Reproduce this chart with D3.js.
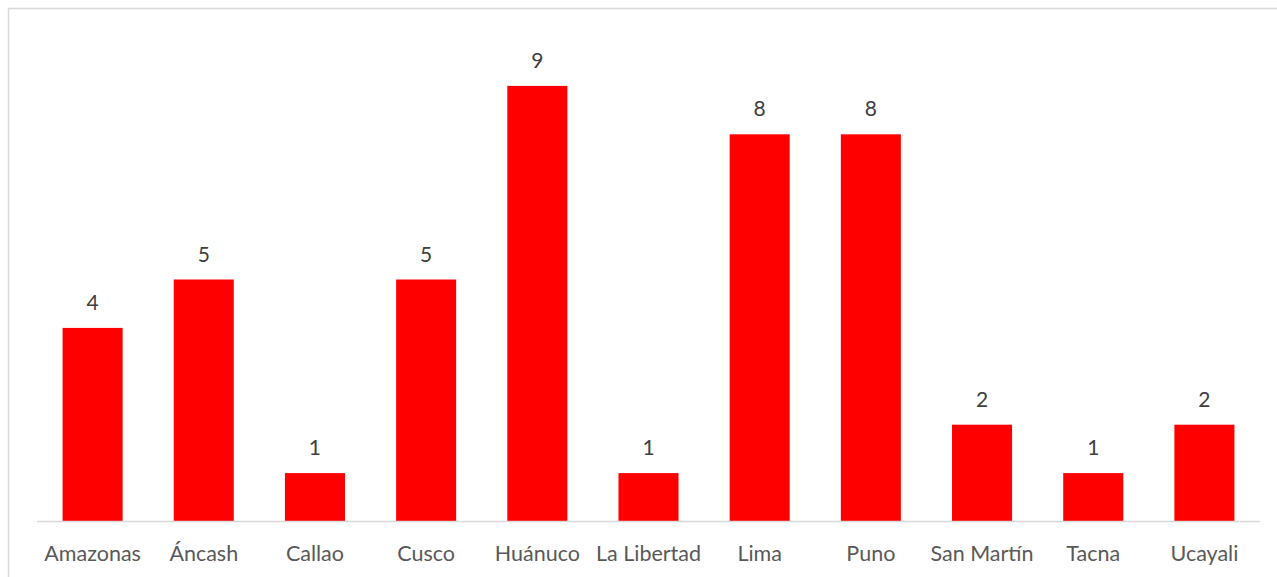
<!DOCTYPE html>
<html><head><meta charset="utf-8">
<script src="https://cdn.jsdelivr.net/npm/d3@7"></script>
<style>body{margin:0;background:#fff}svg{display:block}</style>
</head><body>
<svg id="c" width="1277" height="577"></svg>
<script>
const categories = ["Amazonas","Áncash","Callao","Cusco","Huánuco","La Libertad","Lima","Puno","San Martín","Tacna","Ucayali"];
const values = [4,5,1,5,9,1,8,8,2,1,2];

const svg = d3.select("#c");
svg.append("rect").attr("x",8.5).attr("y",8.5).attr("width",1300).attr("height",600)
  .attr("fill","#fff").attr("stroke","#d9d9d9").attr("stroke-width",1.5);

const x = d3.scaleBand().domain(categories).range([37,1260]).paddingInner(0.46).paddingOuter(0.23);
const y = d3.scaleLinear().domain([0,10]).range([521.5,37.5]);

svg.selectAll("rect.bar").data(values).enter().append("rect").attr("class","bar")
  .attr("x",(d,i)=>x(categories[i])).attr("width",x.bandwidth())
  .attr("y",d=>y(d)).attr("height",d=>y(0)-y(d)).attr("fill","#ff0000");

svg.append("line").attr("x1",37).attr("x2",1260).attr("y1",521.5).attr("y2",521.5)
  .attr("stroke","#d9d9d9").attr("stroke-width",1.5);

svg.selectAll("text.val").data(values).enter().append("text").attr("class","val")
  .attr("x",(d,i)=>x(categories[i])+x.bandwidth()/2).attr("y",d=>y(d)-18)
  .attr("text-anchor","middle").attr("font-family","Lato, 'Open Sans', sans-serif")
  .attr("font-size",21).attr("fill","#404040").text(d=>d);

const xAxis = d3.axisBottom(x).tickSize(0).tickPadding(0);
const g = svg.append("g").attr("transform","translate(0,521.5)").call(xAxis);
g.select(".domain").remove();
g.selectAll("text").attr("y",39).attr("dy",0).attr("font-family","Lato, 'Open Sans', sans-serif")
  .attr("font-size",21.5).attr("fill","#595959");
</script>
</body></html>
